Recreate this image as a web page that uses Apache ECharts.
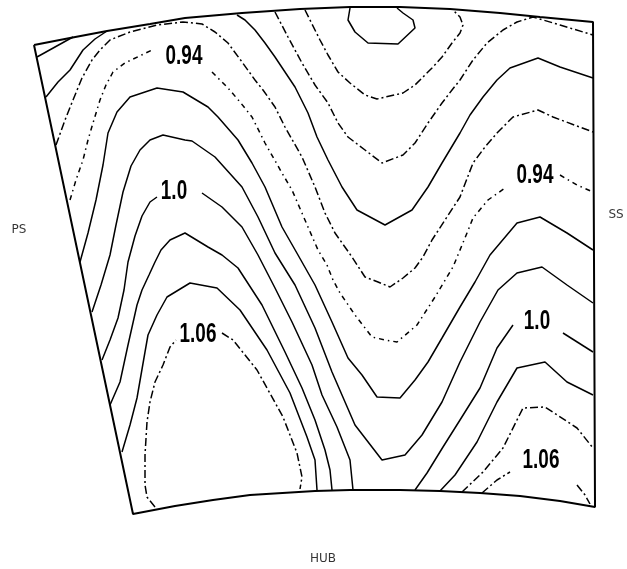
<!DOCTYPE html>
<html>
<head>
<meta charset="utf-8">
<script src="https://cdn.jsdelivr.net/npm/echarts@6/dist/echarts.min.js"></script>
<style>
html,body{margin:0;padding:0;background:#fff;}
#chart{width:627px;height:569px;}
</style>
</head>
<body>
<div id="chart"></div>
<script>
// Passage outline: shroud (top), suction side, hub, pressure side
const edgeTop = [[34,45],[70,38],[107,31],[150,24],[185,18],[242,13],[300,9],[350,7],[400,7],[450,9],[500,13],[540,17],[593,22]];
const edgeSS = [[593,22],[594,260],[595,507]];
const edgeHub = [[595,507],[560,501],[520,496],[480,493],[440,491],[400,490],[350,490],[315,491],[250,495],[213,500],[175,506],[133,514]];
const edgePS = [[133,514],[34,45]];

// Contour lines (null = gap where a value label sits)
const cLoop = [[350,8],[348,20],[355,32],[368,43],[398,44],[415,28],[413,20],[403,13],[397,8]];
const cCorner1 = [[37,57],[73,37]];
const cCorner2 = [[46,97],[58,82],[70,70],[83,50],[95,39],[107,31]];
const cV1 = [[305,10],[312,24],[320,40],[328,55],[338,72],[350,83],[365,95],[377,99],[403,93],[415,85],[432,68],[442,57],[452,43],[460,33],[463,25],[460,17],[453,10]];
const cV2 = [[275,12],[288,37],[302,63],[315,85],[328,103],[338,123],[348,137],[365,150],[382,163],[403,155],[415,143],[428,123],[442,103],[452,90],[460,80],[473,60],[487,43],[503,30],[517,22],[533,17],[560,25],[593,35]];
const cV3 = [[237,15],[245,20],[255,30],[265,43],[275,57],[295,87],[308,113],[317,137],[328,160],[342,187],[357,210],[385,225],[412,210],[428,187],[442,163],[460,133],[470,115],[483,97],[497,80],[510,68],[538,58],[560,67],[593,78]];
const cV4 = [[56,145],[65,120],[73,100],[82,78],[92,60],[100,50],[110,40],[130,32],[157,25],[183,22],[202,24],[215,32],[228,43],[242,62],[255,80],[263,90],[275,107],[285,127],[302,157],[315,187],[325,213],[335,233],[352,257],[365,277],[378,282],[390,287],[403,278],[415,268],[423,257],[432,240],[445,220],[460,197],[473,163],[485,147],[497,133],[513,117],[538,110],[553,117],[593,132]];
const c094 = [[70,200],[76,180],[83,160],[88,140],[93,123],[100,100],[106,85],[113,72],[125,63],[152,50],null,[212,72],[228,88],[240,102],[252,117],[265,143],[282,173],[292,190],[308,227],[318,250],[327,265],[333,280],[340,293],[355,315],[372,337],[385,340],[397,342],[417,325],[435,297],[453,267],[467,233],[473,218],[488,200],[505,188],null,[560,175],[577,185],[593,192]];
const cL5 = [[80,262],[88,233],[96,200],[103,165],[108,133],[117,112],[130,97],[157,88],[183,92],[208,107],[218,117],[238,140],[252,163],[265,187],[282,227],[298,255],[315,285],[332,322],[348,358],[362,375],[377,397],[400,398],[415,380],[428,362],[442,338],[460,307],[475,282],[490,255],[517,223],[540,217],[567,233],[593,250]];
const cL6 = [[92,312],[101,285],[110,255],[116,225],[123,192],[131,166],[140,150],[150,140],[163,135],[185,140],[192,141],[215,157],[242,187],[258,217],[275,253],[295,285],[315,328],[332,372],[355,425],[382,460],[405,455],[422,435],[442,402],[460,362],[480,322],[498,290],[517,273],[542,267],[567,285],[593,303]];
const c100 = [[102,360],[110,340],[118,318],[124,290],[128,262],[135,236],[142,216],[150,202],[157,197],null,[202,193],[222,207],[242,227],[258,255],[275,288],[292,322],[312,365],[322,395],[337,427],[350,460],[353,490]];
const cL7b = [[110,405],[120,382],[128,345],[137,305],[142,290],[149,275],[155,262],[161,250],[170,240],[185,233],[208,247],[222,255],[238,268],[262,305],[285,352],[302,388],[315,420],[325,450],[330,470],[332,490]];
const cL8 = [[122,452],[130,425],[137,398],[145,352],[148,335],[157,315],[167,297],[190,283],[217,288],[240,310],[267,350],[290,393],[307,437],[315,460],[317,490]];
const c106 = [[155,507],[147,497],[145,485],[145,455],[147,422],[150,402],[155,382],[163,365],[170,347],[176,340],null,[222,333],[233,340],[257,370],[283,417],[297,453],[302,477],[300,489]];
const c100R = [[415,490],[427,473],[443,447],[460,420],[480,388],[497,348],[513,325],null,[563,333],[593,352]];
const cR2 = [[440,491],[455,475],[477,442],[497,402],[517,368],[545,362],[567,382],[593,395]];
const cR3 = [[462,492],[483,472],[503,448],[523,408],[545,407],[577,428],[593,448]];
const c106R = [[482,493],[497,480],[510,472],null,[577,485],[585,495],[590,504]];

// Value labels and side names
const valueLabels = ['0.94','1.0','1.06','0.94','1.0','1.06'];
const valueLabelPos = [[184,57],[174,192],[198,335],[535,176],[537,322],[541,461]];
const sideNames = ['PS','SS','HUB'];
const sideNamePos = [[19,230],[616,215],[323,559]];

const SOLID = 'solid';
const DASHDOT = [8,3,2,3];
const DOTDASH = [5,4,1.5,4];

const contourList = [
  [cLoop, SOLID], [cCorner1, SOLID], [cCorner2, SOLID],
  [cV1, DASHDOT], [cV2, DASHDOT], [cV3, SOLID], [cV4, DASHDOT],
  [c094, DOTDASH], [cL5, SOLID], [cL6, SOLID], [c100, SOLID],
  [cL7b, SOLID], [cL8, SOLID], [c106, DASHDOT],
  [c100R, SOLID], [cR2, SOLID], [cR3, DASHDOT], [c106R, DASHDOT]
];

function pieces(arr) {
  const out = [];
  let cur = [];
  arr.forEach(p => {
    if (p === null) { if (cur.length) out.push(cur); cur = []; }
    else cur.push(p);
  });
  if (cur.length) out.push(cur);
  return out;
}

const series = [];
series.push({
  type: 'line', data: [...edgeTop, ...edgeSS.slice(1), ...edgeHub.slice(1), ...edgePS.slice(1)],
  symbol: 'none', silent: true, z: 5,
  lineStyle: { color: '#000', width: 2 }
});
contourList.forEach(([arr, dash]) => {
  pieces(arr).forEach(part => {
    series.push({
      type: 'line', data: part, symbol: 'none', silent: true, z: 4,
      lineStyle: { color: '#000', width: 1.5, type: dash }
    });
  });
});
series.push({
  type: 'scatter', symbolSize: 0, silent: true, z: 6,
  data: sideNamePos.map((p, i) => ({ value: p, name: sideNames[i] })),
  label: {
    show: true, position: 'inside', formatter: '{b}', color: '#000',
    fontFamily: "'DejaVu Sans', sans-serif", fontSize: 12
  }
});

const chart = echarts.init(document.getElementById('chart'), null, { renderer: 'canvas' });
chart.setOption({
  animation: false,
  backgroundColor: '#fff',
  grid: { left: 0, right: 0, top: 0, bottom: 0 },
  xAxis: { type: 'value', min: 0, max: 627, show: false },
  yAxis: { type: 'value', min: 0, max: 569, inverse: true, show: false },
  series: series
});

// Tall, narrow hand-lettered contour values, placed through the grid's scales
chart.setOption({
  graphic: valueLabelPos.map((p, i) => {
    const px = chart.convertToPixel({ gridIndex: 0 }, p);
    return {
      type: 'text', x: px[0], y: px[1], scaleX: 0.7, z: 10, silent: true,
      style: {
        text: valueLabels[i], fill: '#000',
        fontFamily: "'Liberation Sans', Arial, sans-serif",
        fontWeight: 'bold', fontSize: 27,
        align: 'center', verticalAlign: 'middle'
      }
    };
  })
});
</script>
</body>
</html>
